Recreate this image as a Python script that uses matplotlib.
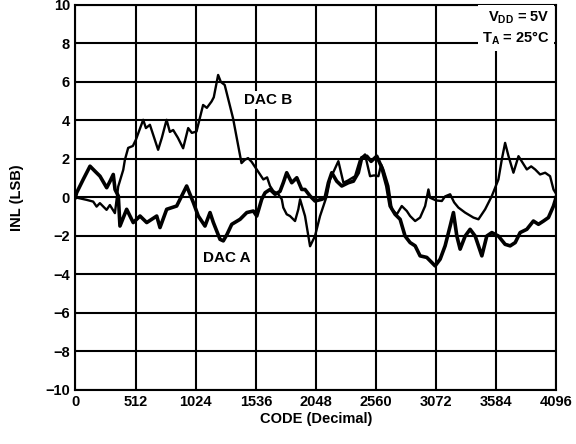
import numpy as np
import matplotlib
matplotlib.use("Agg")
import matplotlib.pyplot as plt

plt.rcParams['font.family'] = ['Liberation Sans', 'DejaVu Sans']
plt.rcParams['font.weight'] = 'bold'
plt.rcParams['mathtext.fontset'] = 'custom'
plt.rcParams['mathtext.rm'] = 'Liberation Sans:bold'
plt.rcParams['mathtext.bf'] = 'Liberation Sans:bold'
plt.rcParams['mathtext.it'] = 'Liberation Sans:bold'

# INL traces (code, LSB)
dac_a_code = [0, 10, 66, 124, 166, 209, 266, 294, 322, 337, 365, 379, 436, 492, 550,
              607, 692, 720, 777, 862, 947, 1004, 1046, 1103, 1146, 1174, 1231, 1259,
              1291, 1331, 1402, 1459, 1515, 1544, 1586, 1615, 1657, 1700, 1742, 1770,
              1799, 1842, 1885, 1927, 1955, 1998, 2040, 2098, 2126, 2154, 2183, 2225,
              2268, 2324, 2367, 2409, 2438, 2481, 2518, 2566, 2609, 2651, 2680, 2722,
              2765, 2807, 2850, 2893, 2935, 2992, 3063, 3106, 3148, 3191, 3219, 3248,
              3276, 3319, 3361, 3404, 3461, 3503, 3546, 3602, 3659, 3702, 3745, 3787,
              3844, 3900, 3943, 3986, 4028, 4071, 4096]
dac_a_inl = [0, 0.24, 0.93, 1.62, 1.36, 1.10, 0.50, 0.83, 1.19, 0.41, 0.07, -1.49, -0.62,
             -1.31, -0.97, -1.31, -0.97, -1.57, -0.62, -0.45, 0.59, -0.27, -0.97, -1.49,
             -0.79, -1.30, -2.18, -2.26, -1.92, -1.40, -1.14, -0.79, -0.71, -0.97, -0.10,
             0.24, 0.41, 0.16, 0.31, 0.76, 1.28, 0.76, 1.02, 0.41, 0.41, 0.07, -0.19,
             -0.10, -0.02, 0.76, 1.28, 0.84, 0.59, 0.76, 0.84, 1.28, 2.06, 2.14, 1.87,
             2.14, 1.54, 0.59, -0.45, -0.88, -1.14, -2.01, -2.35, -2.52, -3.04, -3.12,
             -3.56, -3.21, -2.52, -1.49, -0.79, -2.01, -2.69, -2.01, -1.66, -2.01, -3.04,
             -2.01, -1.83, -2.01, -2.44, -2.52, -2.35, -1.83, -1.66, -1.23, -1.40, -1.23,
             -1.05, -0.45, 0.05]

dac_b_code = [0, 95, 151, 180, 208, 265, 293, 336, 364, 407, 421, 449, 489, 515, 577,
              600, 634, 704, 736, 776, 804, 832, 872, 917, 960, 991, 1031, 1087, 1119,
              1159, 1178, 1215, 1238, 1271, 1342, 1414, 1442, 1470, 1501, 1527, 1572,
              1600, 1632, 1657, 1685, 1728, 1757, 1770, 1799, 1827, 1870, 1898, 1913,
              1955, 1998, 2040, 2083, 2140, 2168, 2239, 2282, 2322, 2381, 2424, 2466,
              2509, 2543, 2580, 2603, 2622, 2665, 2694, 2737, 2779, 2822, 2850, 2893,
              2935, 2978, 3006, 3020, 3071, 3120, 3148, 3191, 3225, 3261, 3318, 3389,
              3432, 3489, 3546, 3602, 3631, 3659, 3688, 3730, 3773, 3844, 3881, 3915,
              3957, 4000, 4042, 4071, 4096]
dac_b_inl = [0, -0.13, -0.22, -0.48, -0.30, -0.65, -0.40, -0.82, 0.56, 1.43, 1.95, 2.57,
             2.67, 3.0, 4.03, 3.6, 3.77, 2.47, 3.1, 4.03, 3.4, 3.5, 3.1, 2.55, 3.6, 3.35,
             3.42, 4.8, 4.65, 4.98, 5.2, 6.36, 6.0, 5.84, 4.11, 1.78, 1.95, 2.04, 1.84,
             1.6, 1.19, 0.93, 1.04, 0.59, 0.33, 0.16, -0.10, -0.53, -0.88, -0.97, -1.23,
             -0.62, -0.10, -0.97, -2.54, -2.01, -0.97, 0.07, 0.93, 1.88, 0.76, 0.88, 1.10,
             1.97, 2.23, 1.10, 1.14, 1.10, 1.71, 1.45, 0.59, -0.62, -0.88, -0.45, -0.71,
             -0.97, -1.23, -1.05, -0.45, 0.41, -0.02, -0.16, -0.19, 0.05, 0.16, -0.26,
             -0.53, -0.79, -1.05, -1.14, -0.62, 0.07, 0.93, 1.97, 2.83, 2.14, 1.28, 2.14,
             1.45, 1.61, 1.45, 1.19, 1.28, 1.10, 0.41, 0.16]

x_ticks = np.arange(0, 4097, 512)
y_ticks = np.arange(-10, 11, 2)

fig = plt.figure(figsize=(5.76, 4.44), dpi=100)
ax = fig.add_axes([0.131, 0.122, 0.835, 0.867])

ax.plot(dac_a_code, dac_a_inl, color='black', lw=2.6, zorder=3)
ax.plot(dac_b_code, dac_b_inl, color='black', lw=1.7, zorder=3)

ax.set_xlim(0, 4096)
ax.set_ylim(-10, 10)
ax.set_xticks(x_ticks)
ax.set_yticks(y_ticks)
ax.tick_params(length=0, labelsize=10.5, pad=4)
ax.grid(True, color='black', lw=1.5)
ax.set_axisbelow(True)
for s in ax.spines.values():
    s.set_linewidth(1.5)

ax.set_xlabel('CODE (Decimal)', fontsize=10.5, fontweight='bold', labelpad=2)
ax.set_ylabel('INL (LSB)', fontsize=10.5, fontweight='bold', labelpad=15)

box = dict(facecolor='white', edgecolor='none', pad=1.5)
ax.text(1640, 5.05, 'DAC B', fontsize=11, ha='center', va='center', bbox=box, zorder=4)
ax.text(1290, -3.15, 'DAC A', fontsize=11, ha='center', va='center', bbox=box, zorder=4)
ax.text(4040, 9.75, 'V$_{\\rm DD}$ = 5V\nT$_{\\rm A}$ = 25°C', fontsize=10.5,
        ha='right', va='top', linespacing=1.25,
        bbox=dict(facecolor='white', edgecolor='none', pad=3), zorder=4)

fig.savefig('out.png', dpi=100)
